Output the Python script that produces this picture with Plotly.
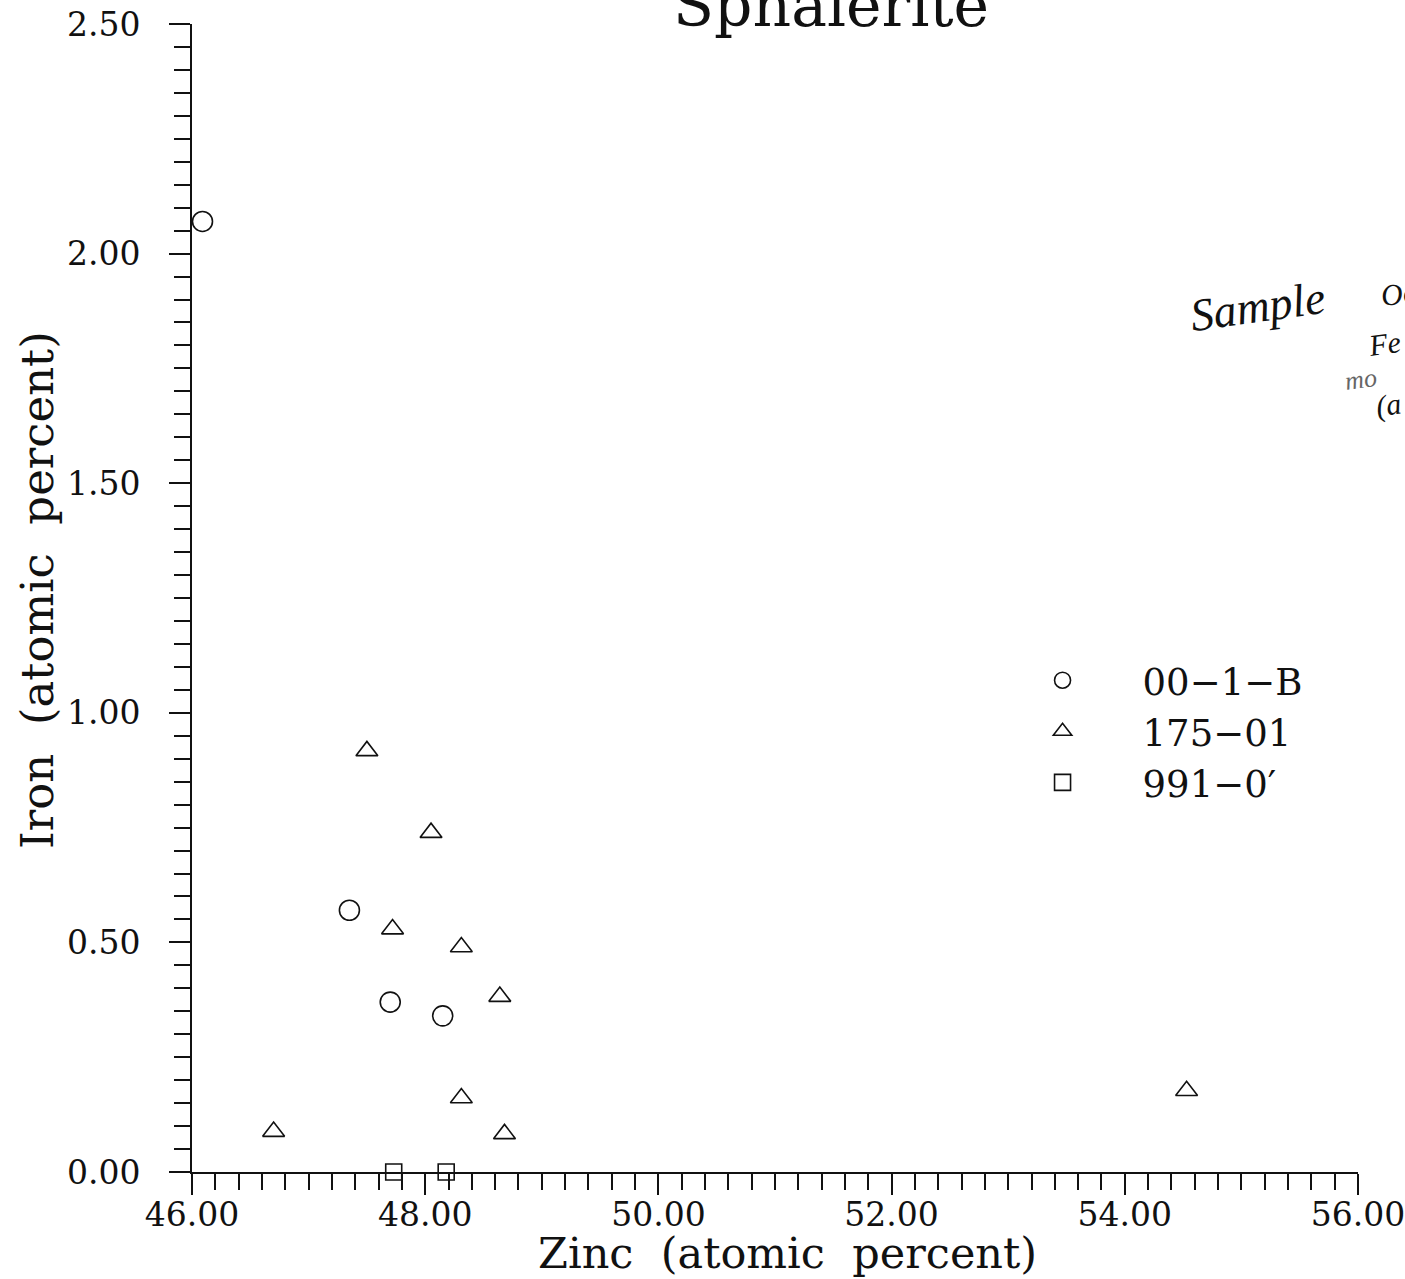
import plotly.graph_objects as go

# ---- data ----
circle_name = "00−1−B"
circle_x = [46.09, 47.35, 47.70, 48.15]
circle_y = [2.07, 0.57, 0.37, 0.34]

triangle_name = "175−01"
triangle_x = [47.50, 48.05, 47.72, 48.31, 48.64, 48.31, 46.70, 48.68, 54.53]
triangle_y = [0.917, 0.739, 0.529, 0.490, 0.382, 0.161, 0.088, 0.083, 0.177]

square_name = "991−0′"
square_x = [47.73, 48.18]
square_y = [0.0, 0.0]

x_ticks = [46, 48, 50, 52, 54, 56]
x_ticklabels = ["46.00", "48.00", "50.00", "52.00", "54.00", "56.00"]
y_ticks = [0.0, 0.5, 1.0, 1.5, 2.0, 2.5]
y_ticklabels = ["0.00", "0.50", "1.00", "1.50", "2.00", "2.50"]

FONT = "DejaVu Serif"
BLACK = "#111111"

fig = go.Figure()
fig.add_trace(go.Scatter(x=circle_x, y=circle_y, mode="markers", name=circle_name,
                         marker=dict(symbol="circle-open", size=20, color=BLACK,
                                     line=dict(width=1.6, color=BLACK)), cliponaxis=False))
fig.add_trace(go.Scatter(x=triangle_x, y=triangle_y, mode="markers", name=triangle_name,
                         marker=dict(symbol="triangle-up-open", size=19, color=BLACK,
                                     line=dict(width=1.6, color=BLACK)), cliponaxis=False))
fig.add_trace(go.Scatter(x=square_x, y=square_y, mode="markers", name=square_name,
                         marker=dict(symbol="square-open", size=16, color=BLACK,
                                     line=dict(width=1.6, color=BLACK)), cliponaxis=False))

fig.update_layout(
    width=1405, height=1279,
    margin=dict(l=192, r=47, t=24, b=107, autoexpand=False),
    paper_bgcolor="white", plot_bgcolor="white",
    font=dict(family=FONT, color=BLACK),
    showlegend=True,
    legend=dict(x=0.678, y=0.455, xanchor="left", yanchor="top",
                font=dict(family=FONT, size=37, color=BLACK),
                bgcolor="rgba(0,0,0,0)", borderwidth=0, itemwidth=150,
                tracegroupgap=0),
)

fig.update_xaxes(range=[46, 56], showline=True, linewidth=2, linecolor=BLACK,
                 ticks="outside", ticklen=21, tickwidth=2, tickcolor=BLACK,
                 tickvals=x_ticks, ticktext=x_ticklabels,
                 tickfont=dict(family=FONT, size=33, color=BLACK),
                 ticklabeloverflow="allow", ticklabelstandoff=-9,
                 minor=dict(dtick=0.2, ticks="outside", ticklen=16, tickwidth=2, tickcolor=BLACK),
                 showgrid=False, zeroline=False, fixedrange=True)
fig.update_yaxes(range=[0, 2.5], showline=True, linewidth=2, linecolor=BLACK,
                 ticks="outside", ticklen=21, tickwidth=2, tickcolor=BLACK,
                 tickvals=y_ticks, ticktext=y_ticklabels,
                 tickfont=dict(family=FONT, size=33, color=BLACK),
                 ticklabelstandoff=22, ticklabeloverflow="allow",
                 minor=dict(dtick=0.05, ticks="outside", ticklen=16, tickwidth=2, tickcolor=BLACK),
                 showgrid=False, zeroline=False, fixedrange=True)

# title (partially cut off at the top, as in the scan)
fig.add_annotation(text="Sphalerite", xref="paper", yref="paper", x=0.548, y=1.0166,
                   xanchor="center", yanchor="middle", showarrow=False,
                   font=dict(family=FONT, size=60, color=BLACK))
# axis titles
fig.add_annotation(text="Zinc\u00a0\u00a0(atomic\u00a0\u00a0percent)", xref="paper", yref="paper",
                   x=0.511, y=-0.0708, xanchor="center", yanchor="middle", showarrow=False,
                   font=dict(family=FONT, size=43, color=BLACK))
fig.add_annotation(text="Iron\u00a0\u00a0(atomic\u00a0\u00a0percent)", xref="paper", yref="paper",
                   x=-0.1320, y=0.507, xanchor="center", yanchor="middle", showarrow=False,
                   textangle=-90, font=dict(family=FONT, size=45, color=BLACK))
# handwritten note (cut off at the right edge)
fig.add_annotation(text="<i>Sample</i>", xref="paper", yref="paper",
                   x=0.914, y=0.754, xanchor="center", yanchor="middle", showarrow=False,
                   textangle=-8, font=dict(family="Liberation Serif", size=46, color=BLACK))
fig.add_annotation(text="<i>Oc</i>", xref="paper", yref="paper",
                   x=1.016, y=0.765, xanchor="left", yanchor="middle", showarrow=False,
                   textangle=-8, font=dict(family="Liberation Serif", size=30, color=BLACK))
fig.add_annotation(text="<i>Fe</i>", xref="paper", yref="paper",
                   x=1.005, y=0.722, xanchor="left", yanchor="middle", showarrow=False,
                   textangle=-8, font=dict(family="Liberation Serif", size=30, color=BLACK))
fig.add_annotation(text="<i>mo</i>", xref="paper", yref="paper",
                   x=0.985, y=0.690, xanchor="left", yanchor="middle", showarrow=False,
                   textangle=-8, font=dict(family="Liberation Serif", size=26, color="#666666"))
fig.add_annotation(text="<i>(a</i>", xref="paper", yref="paper",
                   x=1.012, y=0.668, xanchor="left", yanchor="middle", showarrow=False,
                   textangle=-8, font=dict(family="Liberation Serif", size=30, color=BLACK))

fig.write_html("out.html")
